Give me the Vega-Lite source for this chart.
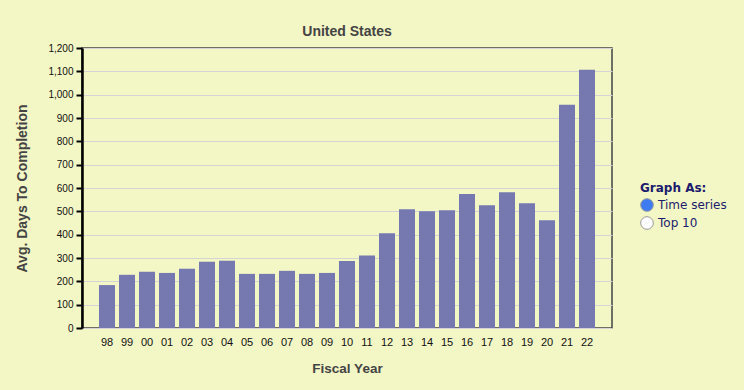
{
  "$schema": "https://vega.github.io/schema/vega-lite/v6.json",
  "width": 530,
  "height": 280,
  "autosize": {"type": "none"},
  "padding": {"left": 82, "top": 48, "right": 132, "bottom": 62},
  "background": "#f3f6c5",
  "title": {
    "text": "United States",
    "fontSize": 14,
    "font": "Liberation Sans",
    "fontWeight": "bold",
    "color": "#444444",
    "anchor": "middle",
    "offset": 4
  },
  "config": {
    "view": {"fill": "#fafce8", "stroke": "#444444", "strokeWidth": 1.5},
    "font": "Liberation Sans"
  },
  "datasets": {
    "bars": [
      {"year": "98", "days": 184},
      {"year": "99", "days": 228},
      {"year": "00", "days": 241},
      {"year": "01", "days": 236},
      {"year": "02", "days": 254},
      {"year": "03", "days": 284},
      {"year": "04", "days": 288},
      {"year": "05", "days": 232},
      {"year": "06", "days": 232},
      {"year": "07", "days": 245},
      {"year": "08", "days": 232},
      {"year": "09", "days": 236},
      {"year": "10", "days": 287},
      {"year": "11", "days": 311},
      {"year": "12", "days": 406},
      {"year": "13", "days": 509},
      {"year": "14", "days": 500},
      {"year": "15", "days": 505},
      {"year": "16", "days": 574},
      {"year": "17", "days": 526},
      {"year": "18", "days": 582},
      {"year": "19", "days": 535},
      {"year": "20", "days": 462},
      {"year": "21", "days": 957},
      {"year": "22", "days": 1107}
    ],
    "options": [
      {"option": "Time series"},
      {"option": "Top 10"}
    ]
  },
  "layer": [
    {
      "data": {"name": "bars"},
      "mark": {"type": "bar", "color": "#7579b0"},
      "encoding": {
        "x": {
          "field": "year",
          "type": "ordinal",
          "sort": null,
          "scale": {"paddingInner": 0.2, "paddingOuter": 0.85},
          "axis": {
            "title": "Fiscal Year",
            "titleFontSize": 13.5,
            "titleFontWeight": "bold",
            "titleColor": "#444444",
            "titlePadding": 14,
            "labelAngle": 0,
            "labelFontSize": 11,
            "labelColor": "#111111",
            "labelPadding": 8,
            "ticks": false,
            "domain": false
          }
        },
        "y": {
          "field": "days",
          "type": "quantitative",
          "scale": {"domain": [0, 1200], "nice": false},
          "axis": {
            "title": "Avg. Days To Completion",
            "titleFontSize": 14,
            "titleFontWeight": "bold",
            "titleColor": "#444444",
            "titlePadding": 18,
            "values": [0, 100, 200, 300, 400, 500, 600, 700, 800, 900, 1000, 1100, 1200],
            "format": ",d",
            "labelFontSize": 10,
            "labelColor": "#111111",
            "labelPadding": 3,
            "tickColor": "#000000",
            "tickWidth": 2,
            "tickSize": 6,
            "domainColor": "#000000",
            "domainWidth": 2.5,
            "gridColor": "#d4d4d4",
            "gridWidth": 1
          }
        }
      }
    },
    {
      "data": {"name": "options"},
      "mark": {"type": "point", "opacity": 0, "filled": true},
      "encoding": {
        "color": {
          "field": "option",
          "type": "nominal",
          "scale": {"domain": ["Time series", "Top 10"], "range": ["#3e7bf0", "#ffffff"]},
          "legend": {
            "orient": "none",
            "legendX": 558,
            "legendY": 135,
            "title": "Graph As:",
            "titleFont": "DejaVu Sans",
            "titleFontSize": 12,
            "titleFontWeight": "bold",
            "titleColor": "#1c1c6e",
            "titlePadding": 3,
            "labelFont": "DejaVu Sans",
            "labelFontSize": 12,
            "labelColor": "#1c1c6e",
            "symbolType": "circle",
            "symbolSize": 160,
            "symbolOpacity": 1,
            "symbolStrokeColor": "#9a9a9a",
            "symbolStrokeWidth": 1,
            "rowPadding": 0,
            "labelOffset": 4
          }
        }
      }
    }
  ]
}
